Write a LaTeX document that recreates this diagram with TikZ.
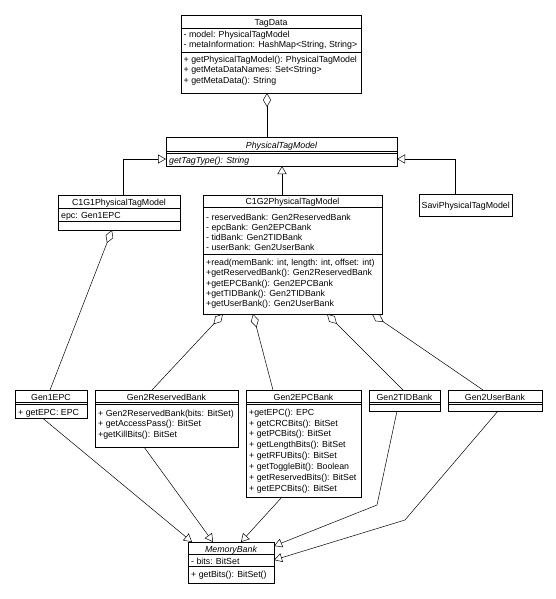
\documentclass[tikz,border=0pt]{standalone}
\usepackage{fontspec}
\setmainfont{Liberation Sans}
\usetikzlibrary{arrows.meta,fit}
\begin{document}
\begin{tikzpicture}[x=1pt,y=-1pt,
  umlbox/.style={draw, line width=0.7pt, inner sep=0pt},
  sep/.style={line width=0.6pt},
  ttl/.style={anchor=base, inner sep=0pt, font=\fontsize{8.8}{10}\selectfont},
  txt/.style={anchor=base west, inner sep=0pt, font=\fontsize{8.8}{10}\selectfont},
  conn/.style={line width=0.5pt},
  gen/.style={conn, -{Triangle[open,length=8pt,width=9pt]}},
  agg/.style={conn, {Diamond[open,length=14pt,width=8pt]}-},
]
\fill[white] (0,0) rectangle (556,599);
\useasboundingbox (0,0) rectangle (556,599);

% ---------- TagData
\node[umlbox, fit={(181,15) (361,93)}] (td) {};
\draw[sep] (181,28) -- (361,28) (181,52) -- (361,52);
\node[ttl] (td-t) at (271,25.5) {TagData};
\node[txt] (td-a1) at (183.5,37.5) {- model: PhysicalTagModel};
\node[txt] (td-a2) at (183.5,47.5) {- metaInformation: HashMap<String, String>};
\node[txt] (td-m1) at (183.5,62.5) {+ getPhysicalTagModel(): PhysicalTagModel};
\node[txt] (td-m2) at (183.5,73) {+ getMetaDataNames: Set<String>};
\node[txt] (td-m3) at (183.5,83.5) {+ getMetaData(): String};

% ---------- PhysicalTagModel
\node[umlbox, fit={(166,137) (397,166)}] (ptm) {};
\draw[sep] (166,151) -- (397,151) (166,153.5) -- (397,153.5);
\node[ttl] (ptm-t) at (281.5,148) {\itshape PhysicalTagModel};
\node[txt] (ptm-m1) at (169,163) {\itshape getTagType(): String};

% ---------- C1G1PhysicalTagModel
\node[umlbox, fit={(58,195) (180,230)}] (c1) {};
\draw[sep] (58,208) -- (180,208) (58,221) -- (180,221);
\node[ttl] (c1-t) at (119,205.5) {C1G1PhysicalTagModel};
\node[txt] (c1-a1) at (61,218) {epc: Gen1EPC};

% ---------- C1G2PhysicalTagModel
\node[umlbox, fit={(203,195) (382,314)}] (c2) {};
\draw[sep] (203,207) -- (382,207) (203,254) -- (382,254);
\node[ttl] (c2-t) at (292.5,204.5) {C1G2PhysicalTagModel};
\node[txt] (c2-a1) at (206,220) {- reservedBank: Gen2ReservedBank};
\node[txt] (c2-a2) at (206,230) {- epcBank: Gen2EPCBank};
\node[txt] (c2-a3) at (206,240) {- tidBank: Gen2TIDBank};
\node[txt] (c2-a4) at (206,250.5) {- userBank: Gen2UserBank};
\node[txt] (c2-m1) at (206,265.5) {+read(memBank: int, length: int, offset: int)};
\node[txt] (c2-m2) at (206,275.5) {+getReservedBank(): Gen2ReservedBank};
\node[txt] (c2-m3) at (206,286) {+getEPCBank(): Gen2EPCBank};
\node[txt] (c2-m4) at (206,296.5) {+getTIDBank(): Gen2TIDBank};
\node[txt] (c2-m5) at (206,306.5) {+getUserBank(): Gen2UserBank};

% ---------- SaviPhysicalTagModel
\node[umlbox, fit={(419,194) (512,216)}] (savi) {};
\node[txt] (savi-t) at (421.5,208) {SaviPhysicalTagModel};

% ---------- Gen1EPC
\node[umlbox, fit={(15,390) (87,418.5)}] (g1) {};
\draw[sep] (15,402) -- (87,402) (15,404.5) -- (87,404.5);
\node[ttl] (g1-t) at (51,400) {Gen1EPC};
\node[txt] (g1-m1) at (18,415.5) {+ getEPC: EPC};

% ---------- Gen2ReservedBank
\node[umlbox, fit={(95,390) (238,447)}] (g2r) {};
\draw[sep] (95,402) -- (238,402) (95,404.5) -- (238,404.5);
\node[ttl] (g2r-t) at (166.5,400) {Gen2ReservedBank};
\node[txt] (g2r-m1) at (98,416) {+ Gen2ReservedBank(bits: BitSet)};
\node[txt] (g2r-m2) at (98,426.5) {+ getAccessPass(): BitSet};
\node[txt] (g2r-m3) at (98,437) {+getKillBits(): BitSet};

% ---------- Gen2EPCBank
\node[umlbox, fit={(246,390) (361,497)}] (g2e) {};
\draw[sep] (246,402) -- (361,402) (246,404.5) -- (361,404.5);
\node[ttl] (g2e-t) at (303.5,400) {Gen2EPCBank};
\node[txt] (g2e-m1) at (249,415.5) {+getEPC(): EPC};
\node[txt] (g2e-m2) at (249,426) {+ getCRCBits(): BitSet};
\node[txt] (g2e-m3) at (249,436.5) {+ getPCBits(): BitSet};
\node[txt] (g2e-m4) at (249,447.5) {+ getLengthBits(): BitSet};
\node[txt] (g2e-m5) at (249,458.5) {+ getRFUBits(): BitSet};
\node[txt] (g2e-m6) at (249,469.5) {+ getToggleBit(): Boolean};
\node[txt] (g2e-m7) at (249,480.5) {+ getReservedBits(): BitSet};
\node[txt] (g2e-m8) at (249,491.5) {+ getEPCBits(): BitSet};

% ---------- Gen2TIDBank
\node[umlbox, fit={(369,390) (440,411)}] (g2t) {};
\draw[sep] (369,402) -- (440,402) (369,404.5) -- (440,404.5);
\node[ttl] (g2t-t) at (404.5,400) {Gen2TIDBank};

% ---------- Gen2UserBank
\node[umlbox, fit={(448,390) (542,411)}] (g2u) {};
\draw[sep] (448,402) -- (542,402) (448,404.5) -- (542,404.5);
\node[ttl] (g2u-t) at (495,400) {Gen2UserBank};

% ---------- MemoryBank
\node[umlbox, fit={(188,542) (274,583)}] (mb) {};
\draw[sep] (188,554) -- (274,554) (188,566) -- (274,566);
\node[ttl] (mb-t) at (231,552) {\itshape MemoryBank};
\node[txt] (mb-a1) at (191,564.5) {- bits: BitSet};
\node[txt] (mb-m1) at (191,577) {+ getBits(): BitSet()};

% ---------- connector end points
\coordinate (td-ag) at (267,93);
\coordinate (ptm-n) at (267,137);
\coordinate (ptm-w) at (166,159);
\coordinate (ptm-s) at (282,166);
\coordinate (ptm-e) at (397,159);
\coordinate (c1-n) at (123,195);
\coordinate (c2-n) at (282,195);
\coordinate (savi-n) at (455,194);
\coordinate (c1-ag) at (112,230);
\coordinate (g1-n) at (50,390);
\coordinate (c2-ag1) at (223,314);
\coordinate (c2-ag2) at (253,314);
\coordinate (c2-ag3) at (327,314);
\coordinate (c2-ag4) at (372,314);
\coordinate (g2r-n) at (152,390);
\coordinate (g2e-n) at (273,390);
\coordinate (g2t-n) at (403,390);
\coordinate (g2u-n) at (483,390);
\coordinate (g1-s) at (43,418.5);
\coordinate (g2r-s) at (144,447);
\coordinate (g2e-s) at (282,497);
\coordinate (g2t-s) at (397,411);
\coordinate (g2u-s) at (498,411);
\coordinate (g2t-bend) at (377,505);
\coordinate (g2u-bend) at (405,520);
\coordinate (mb-n1) at (192,542);
\coordinate (mb-n2) at (213,542);
\coordinate (mb-n3) at (241,542);
\coordinate (mb-e1) at (274,546);
\coordinate (mb-e2) at (274,560);

% ---------- connectors
\draw[agg] (td-ag) -- (ptm-n);
\draw[gen] (c1-n) |- (ptm-w);
\draw[gen] (c2-n) -- (ptm-s);
\draw[gen] (savi-n) |- (ptm-e);
\draw[agg] (c1-ag) -- (g1-n);
\draw[agg] (c2-ag1) -- (g2r-n);
\draw[agg] (c2-ag2) -- (g2e-n);
\draw[agg] (c2-ag3) -- (g2t-n);
\draw[agg] (c2-ag4) -- (g2u-n);
\draw[gen] (g1-s) -- (mb-n1);
\draw[gen] (g2r-s) -- (mb-n2);
\draw[gen] (g2e-s) -- (mb-n3);
\draw[gen] (g2t-s) -- (g2t-bend) -- (mb-e1);
\draw[gen] (g2u-s) -- (g2u-bend) -- (mb-e2);
\end{tikzpicture}
\end{document}
